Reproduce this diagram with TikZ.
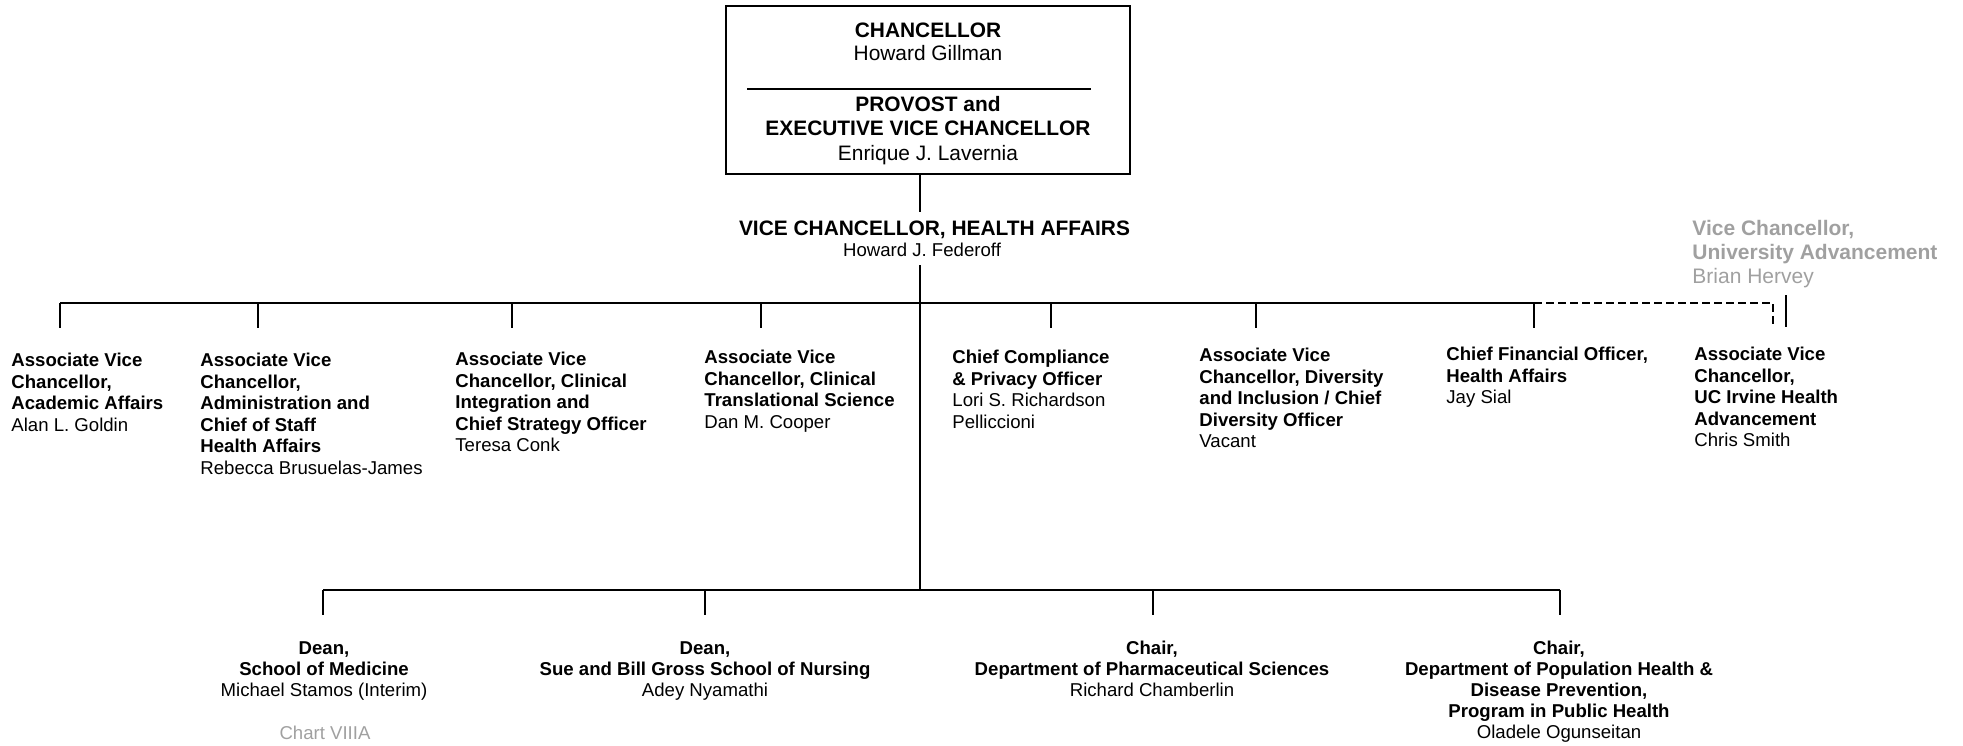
\documentclass[tikz,border=0pt]{standalone}
\usepackage{fontspec}
\setmainfont{Liberation Sans}
\definecolor{lgrey}{RGB}{160,160,160}
\begin{document}
\begin{tikzpicture}[x=0.5pt,y=-0.5pt,
  conn/.style={line width=0.8pt},
  dconn/.style={line width=0.8pt, dash pattern=on 4pt off 2pt},
  unit/.style={anchor=base west, align=left, inner sep=0pt, font=\fontsize{9.3}{10.75}\selectfont},
  dept/.style={anchor=base, align=center, inner sep=0pt, font=\fontsize{9.3}{10.5}\selectfont},
  topt/.style={anchor=base, align=center, inner sep=0pt, font=\fontsize{10.45}{11.8}\selectfont},
  provt/.style={anchor=base, align=center, inner sep=0pt, font=\fontsize{10.45}{12.2}\selectfont},
  greyt/.style={anchor=base west, align=left, inner sep=0pt, text=lgrey, font=\fontsize{10.5}{12}\selectfont},
  boxst/.style={draw, line width=0.8pt, minimum width=202pt, minimum height=84pt, inner sep=0pt}]
\useasboundingbox (0,0) rectangle (1963,745);

% top box (base anchors are at the last line)
\node[boxst] (box) at (928,90) {};
\node[topt] (chanc) at (928,60.9) {\textbf{CHANCELLOR}\\Howard Gillman};
\draw[conn] (747,89) -- (1091,89);
\node[provt] (prov) at (928,160) {\textbf{PROVOST and}\\\textbf{EXECUTIVE VICE CHANCELLOR}\\Enrique J. Lavernia};

% vice chancellor health affairs
\node[topt] (vct) at (934.5,235.3) {\textbf{VICE CHANCELLOR, HEALTH AFFAIRS}};
\node[dept] (vcn) at (922,256.7) {Howard J. Federoff};

% university advancement
\node[greyt] (uadv) at (1692,283.5) {\textbf{Vice Chancellor,}\\\textbf{University Advancement}\\Brian Hervey};

% first row
\node[unit] (c1) at (11,431) {\textbf{Associate Vice}\\\textbf{Chancellor,}\\\textbf{Academic Affairs}\\Alan L. Goldin};
\node[unit] (c2) at (200,474) {\textbf{Associate Vice}\\\textbf{Chancellor,}\\\textbf{Administration and}\\\textbf{Chief of Staff}\\\textbf{Health Affairs}\\Rebecca Brusuelas-James};
\node[unit] (c3) at (455,451.5) {\textbf{Associate Vice}\\\textbf{Chancellor, Clinical}\\\textbf{Integration and}\\\textbf{Chief Strategy Officer}\\Teresa Conk};
\node[unit] (c4) at (704,428) {\textbf{Associate Vice}\\\textbf{Chancellor, Clinical}\\\textbf{Translational Science}\\Dan M. Cooper};
\node[unit] (c5) at (952,428) {\textbf{Chief Compliance}\\\textbf{\& Privacy Officer}\\Lori S. Richardson\\Pelliccioni};
\node[unit] (c6) at (1199,447.5) {\textbf{Associate Vice}\\\textbf{Chancellor, Diversity}\\\textbf{and Inclusion / Chief}\\\textbf{Diversity Officer}\\Vacant};
\node[unit] (c7) at (1446,403.5) {\textbf{Chief Financial Officer,}\\\textbf{Health Affairs}\\Jay Sial};
\node[unit] (c8) at (1694,446.5) {\textbf{Associate Vice}\\\textbf{Chancellor,}\\\textbf{UC Irvine Health}\\\textbf{Advancement}\\Chris Smith};

% second row
\node[dept] (d1) at (324,696.5) {\textbf{Dean,}\\\textbf{School of Medicine}\\Michael Stamos (Interim)};
\node[dept] (d2) at (705,696.5) {\textbf{Dean,}\\\textbf{Sue and Bill Gross School of Nursing}\\Adey Nyamathi};
\node[dept] (d3) at (1152,696.5) {\textbf{Chair,}\\\textbf{Department of Pharmaceutical Sciences}\\Richard Chamberlin};
\node[dept] (d4) at (1559,738.5) {\textbf{Chair,}\\\textbf{Department of Population Health \&}\\\textbf{Disease Prevention,}\\\textbf{Program in Public Health}\\Oladele Ogunseitan};
\node[dept, text=lgrey] (chart) at (325,739.5) {Chart VIIIA};

% trunk coordinates
\coordinate (boxout) at (920,174);
\coordinate (vcin) at (920,212);
\coordinate (vcout) at (920,265);
\coordinate (j2) at (920,590);
\draw[conn] (boxout) -- (vcin);
\draw[conn] (vcout) -- (j2);

% first bus
\foreach \i/\x in {1/60,2/258,3/512,4/761,5/1051,6/1256,7/1534} {
  \coordinate (b\i) at (\x,303);
  \coordinate (e\i) at (\x,328);
  \draw[conn] (b\i) -- (e\i);
}
\draw[conn] (b1) -- (b7);
\coordinate (dd) at (1773,303);
\coordinate (de) at (1773,326);
\draw[dconn] (b7) -- (dd) -- (de);
\coordinate (ua1) at (1786,295);
\coordinate (ua2) at (1786,327);
\draw[conn] (ua1) -- (ua2);

% second bus
\foreach \i/\x in {1/323,2/705,3/1153,4/1560} {
  \coordinate (g\i) at (\x,590);
  \coordinate (h\i) at (\x,615);
  \draw[conn] (g\i) -- (h\i);
}
\draw[conn] (g1) -- (g4);
\end{tikzpicture}
\end{document}
